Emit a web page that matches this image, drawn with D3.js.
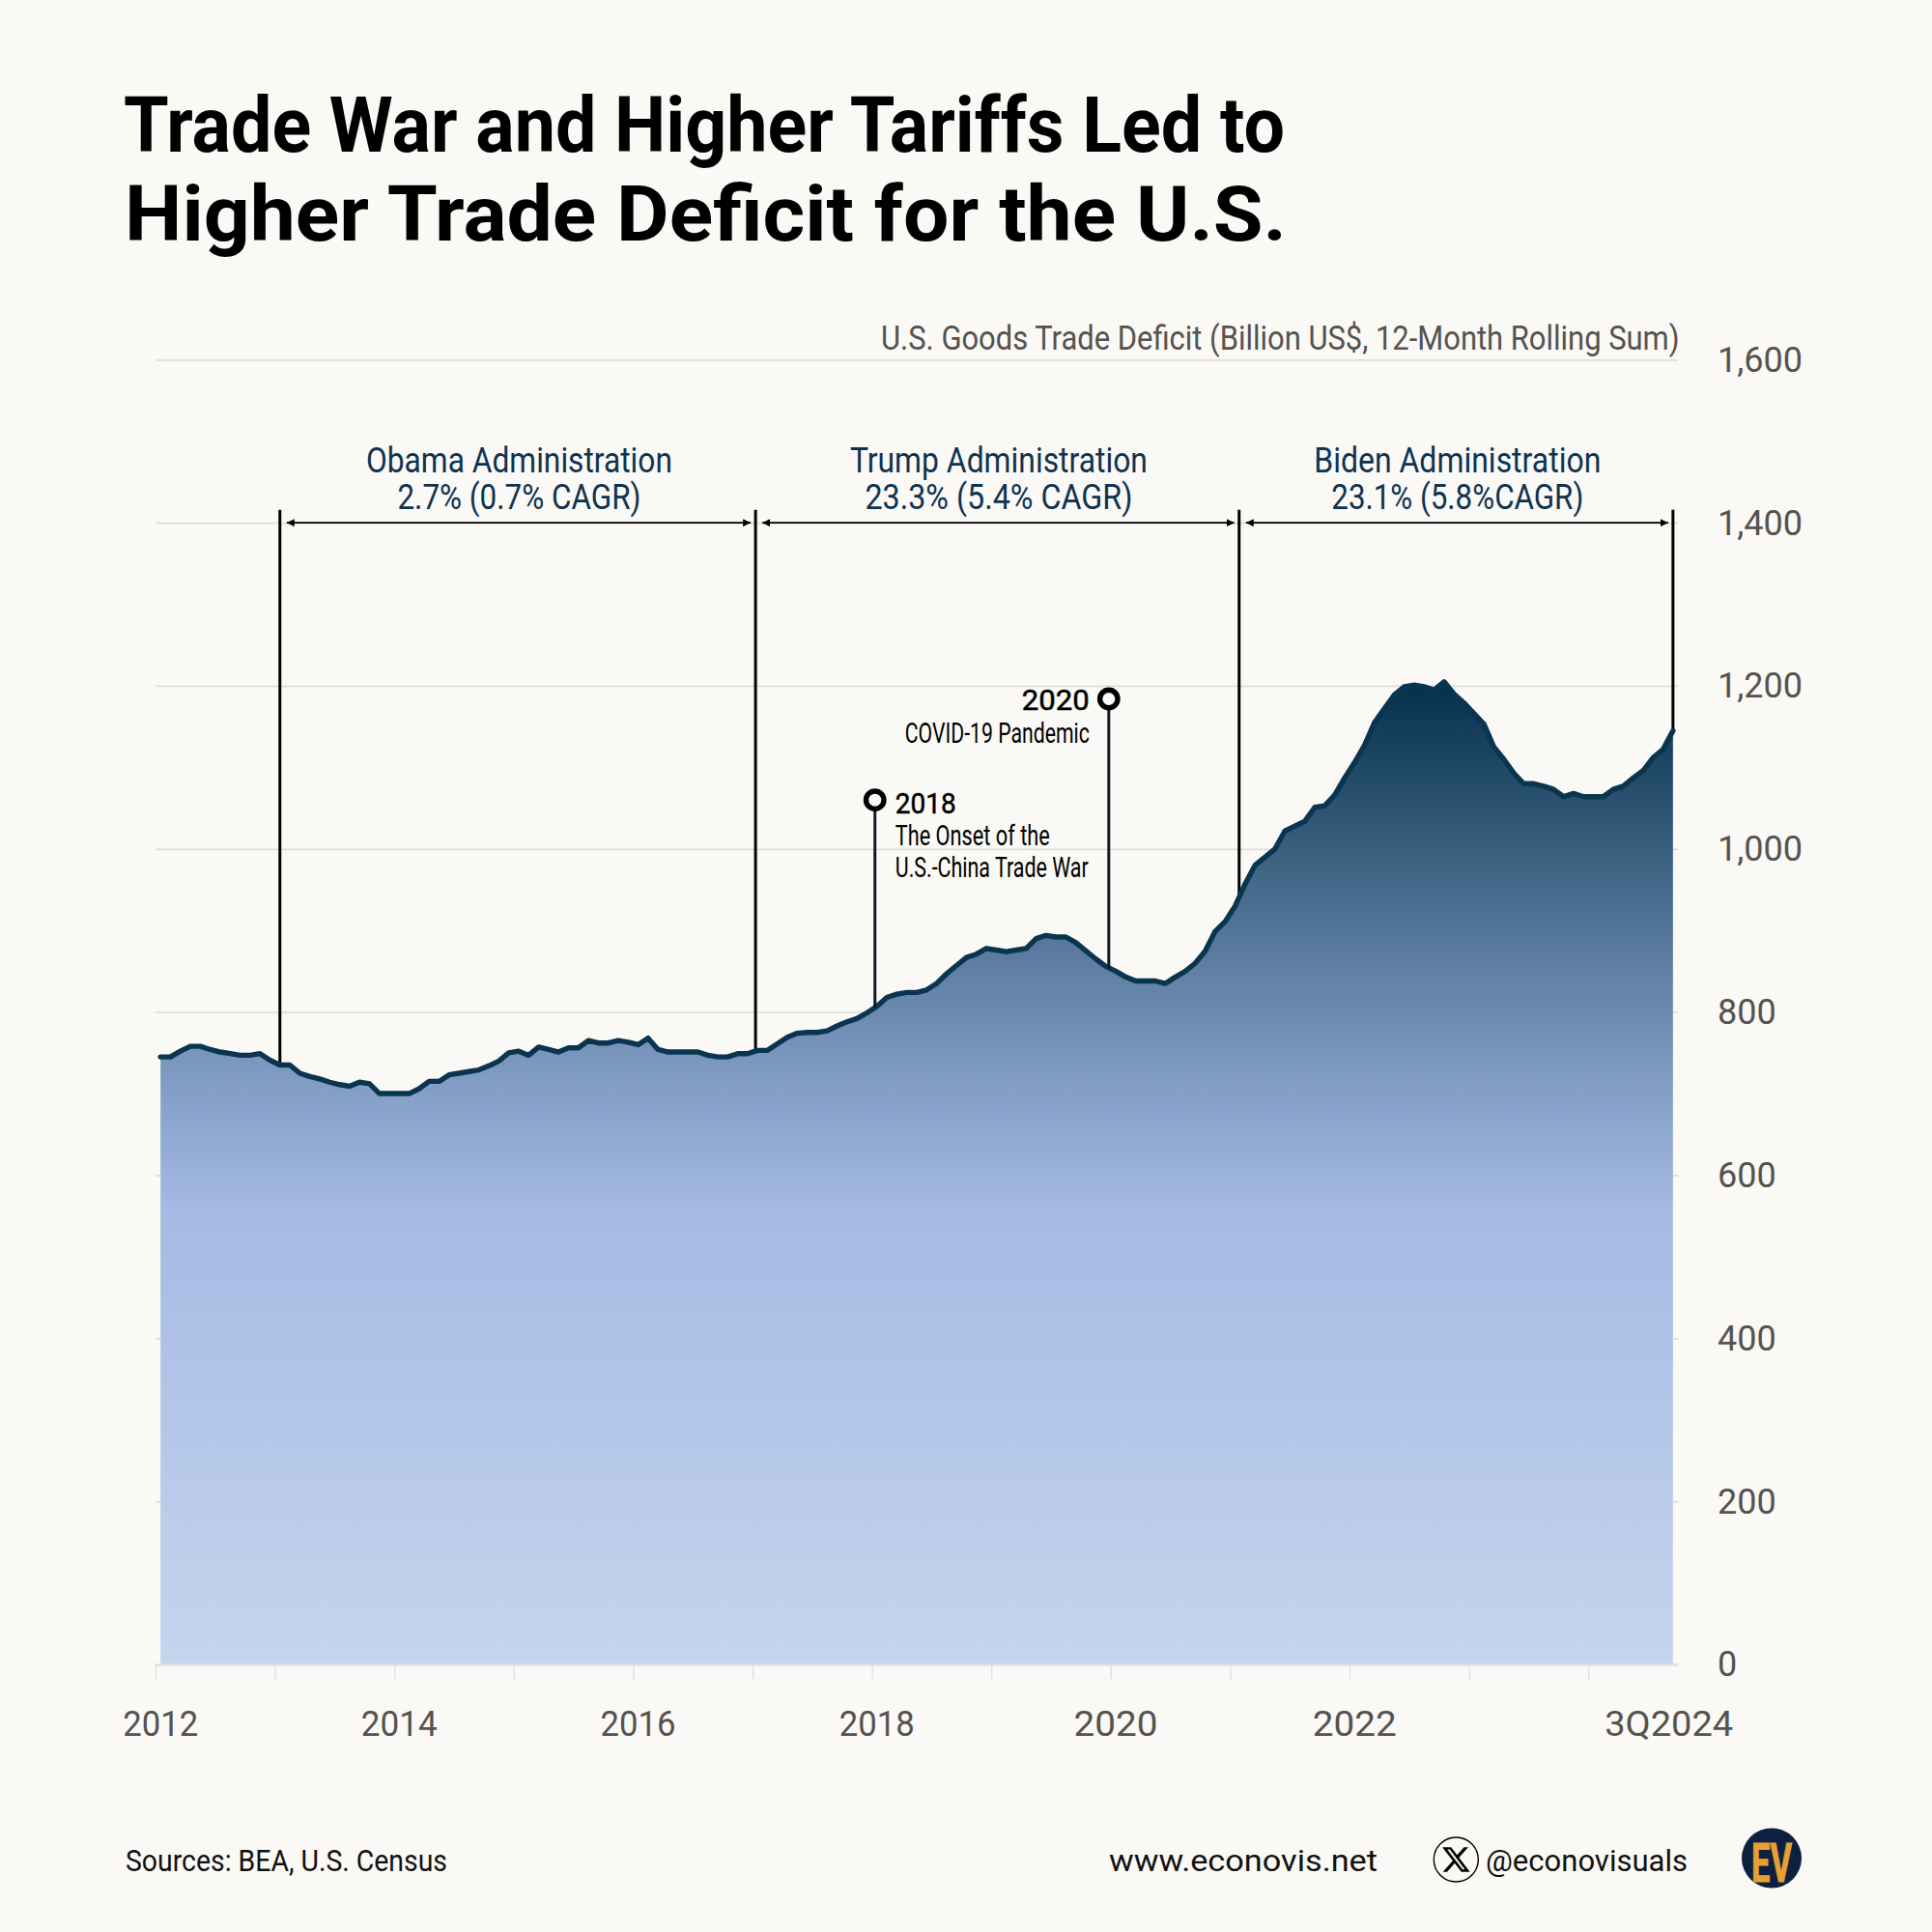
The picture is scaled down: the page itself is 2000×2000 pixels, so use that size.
<!DOCTYPE html>
<html><head><meta charset="utf-8">
<script src="https://cdn.jsdelivr.net/npm/d3@7"></script>
<style>
html,body{margin:0;padding:0;background:#faf9f5;}
svg{display:block;}
</style></head><body>
<div id="chart"></div>
<script>
// Monthly values, Jan 2012 .. Sep 2024
const deficit2012 = [745,745,752,758,758,754,751,749,747,747,749,741];
const deficit2013 = [735,735,725,721,718,714,711,709,714,712,700,700];
const deficit2014 = [700,700,706,715,715,723,725,727,729,734,740,750];
const deficit2015 = [752,747,757,754,751,756,756,765,762,762,765,763];
const deficit2016 = [760,768,754,751,751,751,751,747,745,745,749,749];
const deficit2017 = [753,753,761,769,774,775,775,777,783,788,792,799];
const deficit2018 = [807,818,822,824,824,827,835,847,857,867,871,878];
const deficit2019 = [876,874,876,878,890,894,892,892,885,875,865,856];
const deficit2020 = [850,843,838,838,838,835,843,850,860,875,899,911];
const deficit2021 = [930,957,980,990,1000,1022,1028,1034,1051,1053,1066,1087];
const deficit2022 = [1106,1127,1155,1172,1189,1199,1201,1199,1195,1205,1190,1179];
const deficit2023 = [1166,1153,1125,1110,1093,1080,1080,1077,1073,1064,1068,1064];
const deficit2024 = [1064,1064,1073,1077,1087,1096,1112,1122,1145];
const values = [].concat(deficit2012,deficit2013,deficit2014,deficit2015,deficit2016,deficit2017,
  deficit2018,deficit2019,deficit2020,deficit2021,deficit2022,deficit2023,deficit2024);

const yTicks = [0,200,400,600,800,1000,1200,1400,1600];
const yearTicks = [2012,2013,2014,2015,2016,2017,2018,2019,2020,2021,2022,2023,2024];
const xLabels = ["2012","2014","2016","2018","2020","2022","3Q2024"];
const xLabelMonths = [0,24,48,72,96,120,151.6];
const xLabelWidths = [78,79,78,78,87,87,133];

const adminNames = ["Obama Administration","Trump Administration","Biden Administration"];
const adminGrowth = ["2.7% (0.7% CAGR)","23.3% (5.4% CAGR)","23.1% (5.8%CAGR)"];
const adminNameWidths = [317,308,297];
const adminGrowthWidths = [252,277,261];
const adminBoundaries = [12,59.8,108.4,152];

const pinMonths = [71.8,95.3];
const pinTops = [1060,1184];

const W=2000,H=2000;
const svg=d3.select("#chart").append("svg").attr("width",W).attr("height",H).attr("viewBox",`0 0 ${W} ${H}`);
svg.append("rect").attr("width",W).attr("height",H).attr("fill","#faf9f5");

const x=d3.scaleLinear().domain([2012,2024.75]).range([161,1737]);
const y=d3.scaleLinear().domain([0,1600]).range([1723,372.3]);
const mx=i=>x(2012+(i+0.5)/12);
const valueAt=i=>{const a=Math.floor(i),b=Math.min(a+1,values.length-1);return values[a]+(values[b]-values[a])*(i-a);};

const NARROW='"Liberation Sans Narrow","Roboto",sans-serif';
const NUM='Roboto,sans-serif';
function txt(g,s,px,py,o){
  const t=g.append("text").attr("x",px).attr("y",py).text(s)
    .attr("font-family",o.font||NARROW).attr("font-size",o.size)
    .attr("font-weight",o.weight||400).attr("fill",o.fill||"#000")
    .attr("text-anchor",o.anchor||"start");
  if(o.width){t.attr("textLength",o.width).attr("lengthAdjust",o.adjust||"spacingAndGlyphs");}
  return t;
}

// gradient
const defs=svg.append("defs");
const grad=defs.append("linearGradient").attr("id","areaGrad").attr("gradientUnits","userSpaceOnUse")
  .attr("x1",0).attr("x2",0).attr("y1",y(1205)).attr("y2",y(0));
const gradStops=[[0,"#05304a"],[0.19,"#3f6585"],[0.335,"#6c8ab0"],[0.44,"#8aa5cd"],[0.54,"#a6bae3"],[1,"#c5d5ee"]];
gradStops.forEach(s=>grad.append("stop").attr("offset",s[0]).attr("stop-color",s[1]));
const mk=(id,d)=>defs.append("marker").attr("id",id).attr("viewBox","0 0 8 8").attr("refX",id==="hs"?0:8).attr("refY",4)
  .attr("markerWidth",8).attr("markerHeight",8).attr("markerUnits","userSpaceOnUse").attr("orient","auto")
  .append("path").attr("d",d).attr("fill","#000");
mk("hs","M0,4L8,0L8,8Z");mk("he","M8,4L0,0L0,8Z");

// Y axis with gridlines
const yAxis=d3.axisRight(y).tickValues(yTicks).tickSize(-(x.range()[1]-x.range()[0])).tickPadding(41)
  .tickFormat(d3.format(","));
const gy=svg.append("g").attr("transform",`translate(${x.range()[1]},0)`).call(yAxis);
gy.select(".domain").remove();
gy.selectAll("line").attr("stroke","#dfded9").attr("stroke-width",1.8);
gy.selectAll("text").attr("font-family",NUM).attr("font-size",36).attr("fill","#55524f").attr("dy","0.33em");

// Area and line
const months=values.map((v,i)=>i);
const area=d3.area().x(i=>mx(i)).y0(y(0)).y1(i=>y(values[i]));
svg.append("path").datum(months).attr("d",area).attr("fill","url(#areaGrad)");

// X axis
const xAxis=d3.axisBottom(x).tickValues(yearTicks).tickSizeInner(15).tickSizeOuter(0).tickFormat("");
const gx=svg.append("g").attr("transform",`translate(0,${y(0)})`).call(xAxis);
gx.select(".domain").attr("stroke","#dde3e6").attr("stroke-width",2.4);
gx.selectAll("line").attr("stroke","#dddcd8").attr("stroke-width",1.2);
const gxl=svg.append("g");
xLabels.forEach((s,i)=>txt(gxl,s,mx(xLabelMonths[i]),1797,{font:NUM,size:36,fill:"#55524f",anchor:"middle",width:xLabelWidths[i]}));

// Admin boundaries
const ga=svg.append("g");
adminBoundaries.forEach(b=>ga.append("line").attr("x1",mx(b)).attr("x2",mx(b)).attr("y1",y(1416)).attr("y2",y(valueAt(b)))
  .attr("stroke","#000").attr("stroke-width",3));
adminNames.forEach((n,i)=>{
  const a=mx(adminBoundaries[i]),b=mx(adminBoundaries[i+1]),c=(a+b)/2+1.5;
  ga.append("line").attr("x1",a+7).attr("x2",b-5).attr("y1",y(1400)).attr("y2",y(1400))
    .attr("stroke","#000").attr("stroke-width",1.6).attr("marker-start","url(#hs)").attr("marker-end","url(#he)");
  txt(ga,n,c,488.5,{size:36,fill:"#0e3350",anchor:"middle",width:adminNameWidths[i]});
  txt(ga,adminGrowth[i],c,526.5,{size:36,fill:"#0e3350",anchor:"middle",width:adminGrowthWidths[i]});
});

// Pins
const gp=svg.append("g");
pinMonths.forEach((m,i)=>{
  gp.append("line").attr("x1",mx(m)).attr("x2",mx(m)).attr("y1",y(pinTops[i])).attr("y2",y(valueAt(m)))
    .attr("stroke","#0b1a28").attr("stroke-width",3);
});

const line=d3.line().x(i=>mx(i)).y(i=>y(values[i]));
svg.append("path").datum(months).attr("d",line).attr("fill","none").attr("stroke","#0a3550")
  .attr("stroke-width",5.4).attr("stroke-linejoin","round").attr("stroke-linecap","round");

pinMonths.forEach((m,i)=>{
  gp.append("circle").attr("cx",mx(m)).attr("cy",y(pinTops[i])).attr("r",9.2)
    .attr("fill","#faf9f5").attr("stroke","#000").attr("stroke-width",5.4);
});
gp.raise();
txt(gp,"2018",mx(pinMonths[0])+21,841.5,{font:NUM,size:30,weight:400,width:63}).attr("stroke","#000").attr("stroke-width",0.5);
txt(gp,"The Onset of the",mx(pinMonths[0])+21,875,{size:30,width:160});
txt(gp,"U.S.-China Trade War",mx(pinMonths[0])+21,908,{size:30,width:200});
txt(gp,"2020",mx(pinMonths[1])-20,735,{font:NUM,size:30,weight:400,anchor:"end",width:70}).attr("stroke","#000").attr("stroke-width",0.5);
txt(gp,"COVID-19 Pandemic",mx(pinMonths[1])-20,769.3,{size:30,anchor:"end",width:191});

// Title, subtitle, footer
txt(svg,"Trade War and Higher Tariffs Led to",128,157,{size:80,weight:700,width:1202});
txt(svg,"Higher Trade Deficit for the U.S.",129,249,{size:80,weight:700,width:1203});
const sub=txt(svg,"U.S. Goods Trade Deficit (Billion US$, 12-Month Rolling Sum)",0,0,{size:36,fill:"#55524f"});
const subW=sub.node().getComputedTextLength();
sub.attr("transform",`translate(912,361.5) scale(${827/subW},1)`);
txt(svg,"Sources: BEA, U.S. Census",130,1936.5,{size:31,fill:"#111",width:333});
txt(svg,"www.econovis.net",1148,1936.5,{size:31,fill:"#111",width:278});
txt(svg,"@econovisuals",1538,1936.5,{size:31,fill:"#111",width:209});

const gi=svg.append("g").attr("transform","translate(1507.3,1925)");
gi.append("circle").attr("r",23).attr("fill","none").attr("stroke","#000").attr("stroke-width",1.4);
gi.append("path").attr("transform","scale(1.32) translate(-12,-12)")
  .attr("d","M18.244 2.25h3.308l-7.227 8.26 8.502 11.24H16.17l-5.214-6.817L4.99 21.75H1.68l7.73-8.835L1.254 2.25H8.08l4.713 6.231zm-1.161 17.52h1.833L7.084 4.126H5.117z")
  .attr("fill","#000");
svg.append("circle").attr("cx",1834).attr("cy",1923.5).attr("r",31).attr("fill","#0c2140");
txt(svg,"EV",1834,1948,{size:56,weight:700,fill:"#e6a034",anchor:"middle",width:42}).attr("stroke","#e6a034").attr("stroke-width",1);
</script></body></html>
